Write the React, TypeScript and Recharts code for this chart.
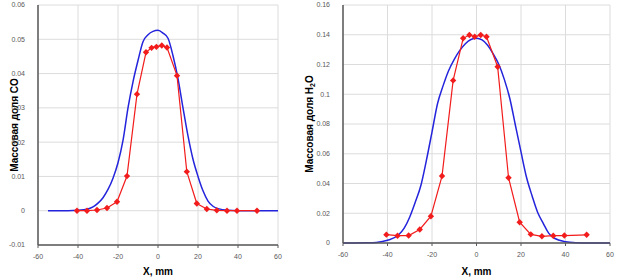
import React from 'react';
import { LineChart, Line, XAxis, YAxis, CartesianGrid } from 'recharts';

// measured points (red), same x positions on both plots
const X_EXP = [-40.5, -35.5, -30.5, -25.5, -20.5, -15.5, -10.5, -6, -3.2, -0.8, 1.9, 4.5, 9.5, 14.4, 19.4, 24.4, 29.4, 34.5, 39.5, 49.5];
const CO_EXP = [0, 0, 0.0002, 0.0008, 0.0026, 0.0101, 0.034, 0.0462, 0.0475, 0.0478, 0.0482, 0.0476, 0.0394, 0.0114, 0.0021, 0.0005, 0.0001, 0, 0, 0];
const H2O_EXP = [0.0056, 0.0049, 0.005, 0.0091, 0.018, 0.045, 0.1093, 0.1376, 0.1398, 0.1387, 0.1398, 0.1387, 0.1185, 0.0439, 0.014, 0.0058, 0.0045, 0.0049, 0.005, 0.0055];

// calculated curves (blue)
const X_CALC_CO = [-55, -50, -45, -40, -35, -32.5, -30, -27.5, -25, -22.5, -20, -17.5, -15, -12.5, -10, -7.5, -5, -2.5, 0, 2.5, 5, 7.5, 10, 12.5, 15, 17.5, 20, 22.5, 25, 27.5, 30, 35, 40, 45, 50, 55, 60];
const CO_CALC = [0, 0, 0, 0.0001, 0.0005, 0.0011, 0.0022, 0.0038, 0.0062, 0.0095, 0.014, 0.0205, 0.03, 0.0376, 0.0438, 0.0493, 0.0513, 0.0523, 0.0526, 0.0518, 0.0503, 0.0452, 0.0385, 0.03, 0.0218, 0.015, 0.01, 0.0058, 0.0028, 0.0013, 0.0006, 0.0001, 0, 0, 0, 0, 0];
const X_CALC_H2O = [-60, -55, -50, -45, -40, -35, -32.5, -30, -27.5, -25, -22.5, -20, -17.5, -15, -12.5, -10, -7.5, -5, -2.5, 0, 2.5, 5, 7.5, 10, 12.5, 15, 17.5, 20, 22.5, 25, 27.5, 30, 32.5, 35, 40, 45, 50, 55, 60];
const H2O_CALC = [0, 0, 0.0001, 0.0004, 0.0018, 0.0055, 0.01, 0.0175, 0.0275, 0.0387, 0.0557, 0.0746, 0.0938, 0.1058, 0.116, 0.1235, 0.1295, 0.134, 0.1368, 0.1377, 0.1366, 0.133, 0.1272, 0.1202, 0.11, 0.097, 0.079, 0.0612, 0.044, 0.0316, 0.0205, 0.0132, 0.0065, 0.0032, 0.0009, 0.0002, 0, 0, 0];

const X_TICKS = [-60, -40, -20, 0, 20, 40, 60];
const CO_TICKS = [-0.01, 0, 0.01, 0.02, 0.03, 0.04, 0.05, 0.06];
const CO_MINOR = [-0.005, 0.005, 0.015, 0.025, 0.035, 0.045, 0.055];
const H2O_TICKS = [0, 0.02, 0.04, 0.06, 0.08, 0.1, 0.12, 0.14, 0.16];
const H2O_MINOR = [0.01, 0.03, 0.05, 0.07, 0.09, 0.11, 0.13, 0.15];

const toRows = (xs: number[], ys: number[]) => xs.map((x, i) => ({ x, y: ys[i] }));

const FONT = '"Liberation Sans", Arial, sans-serif';
const AXIS_DARK = '#595959';
const GRID = '#dcdcdc';
const RED = '#f21c1c';
const BLUE = '#2424dc';

const tickStyle = { fontSize: 7, fill: '#595959', fontFamily: FONT };

const Diamond = (props: any) => {
  const { cx, cy, index } = props;
  if (cx == null || cy == null) return null;
  const r = 3.2;
  return <path key={`d-${index}`} d={`M${cx},${cy - r}L${cx + r},${cy}L${cx},${cy + r}L${cx - r},${cy}Z`} fill={RED} />;
};

const yTitle = (main: string, sub?: string, tail?: string, dx = 6) => (props: any) => {
  const vb = props.viewBox;
  const x = vb.x + dx;
  const y = vb.y + vb.height / 2;
  return (
    <text
      x={x}
      y={y}
      transform={`rotate(-90, ${x}, ${y})`}
      textAnchor="middle"
      dominantBaseline="central"
      fontFamily={FONT}
      fontWeight="bold"
      fontSize={10}
      fill="#000"
    >
      {main}
      {sub && <tspan fontSize={7} dy={3}>{sub}</tspan>}
      {tail && <tspan fontSize={10} dy={-3}>{tail}</tspan>}
    </text>
  );
};

interface PanelProps {
  width: number;
  margin: { top: number; right: number; left: number; bottom: number };
  yWidth: number;
  xHeight: number;
  yDomain: [number, number];
  yTicks: number[];
  yMinor: number[];
  calc: { x: number; y: number }[];
  exp: { x: number; y: number }[];
  title: (props: any) => React.ReactElement;
  frameColor: string;
}

function Panel({ width, margin, yWidth, xHeight, yDomain, yTicks, yMinor, calc, exp, title, frameColor }: PanelProps) {
  return (
    <LineChart width={width} height={278} margin={margin}>
      <CartesianGrid stroke={GRID} strokeWidth={1} />
      <XAxis
        dataKey="x"
        type="number"
        domain={[-60, 60]}
        ticks={X_TICKS}
        interval={0}
        height={xHeight}
        tick={tickStyle}
        tickLine={{ stroke: AXIS_DARK }}
        tickSize={3}
        tickMargin={6}
        axisLine={{ stroke: AXIS_DARK, strokeWidth: 1.5 }}
        label={{ value: 'X, mm', position: 'insideBottom', offset: 3, fontSize: 10, fontWeight: 'bold', fill: '#000', fontFamily: FONT }}
      />
      <XAxis xAxisId="top" orientation="top" type="number" domain={[-60, 60]} height={0} tick={false} tickLine={false} axisLine={{ stroke: frameColor, strokeWidth: 1.5 }} />
      <YAxis
        type="number"
        domain={yDomain}
        ticks={yTicks}
        interval={0}
        width={yWidth}
        tick={tickStyle}
        tickLine={false}
        tickMargin={7}
        tickFormatter={(v: number) => String(v)}
        axisLine={{ stroke: AXIS_DARK, strokeWidth: 1.5 }}
        label={{ content: title }}
      />
      <YAxis yAxisId="minor" type="number" domain={yDomain} ticks={yMinor} interval={0} mirror width={0} tick={false} tickSize={2} tickLine={{ stroke: AXIS_DARK }} axisLine={false} />
      <YAxis yAxisId="right" orientation="right" type="number" domain={yDomain} width={0} tick={false} tickLine={false} axisLine={{ stroke: frameColor, strokeWidth: 1.5 }} />
      <Line data={calc} dataKey="y" type="monotone" stroke={BLUE} strokeWidth={1.5} dot={false} isAnimationActive={false} />
      <Line data={exp} dataKey="y" type="linear" stroke={RED} strokeWidth={1.2} dot={Diamond} isAnimationActive={false} />
    </LineChart>
  );
}

export default function App() {
  return (
    <div style={{ position: 'absolute', left: 0, top: 0, width: 617, height: 278, background: '#fff' }}>
      <div style={{ position: 'absolute', left: 0, top: 0 }}>
        <Panel
          width={290}
          margin={{ top: 5, right: 12, left: 8, bottom: 0 }}
          yWidth={30}
          xHeight={33}
          yDomain={[-0.01, 0.06]}
          yTicks={CO_TICKS}
          yMinor={CO_MINOR}
          calc={toRows(X_CALC_CO, CO_CALC)}
          exp={toRows(X_EXP, CO_EXP)}
          title={yTitle('Массовая доля CO')}
          frameColor="#a0a0a0"
        />
      </div>
      <div style={{ position: 'absolute', left: 300, top: 0 }}>
        <Panel
          width={317}
          margin={{ top: 5, right: 7, left: 3, bottom: 0 }}
          yWidth={40}
          xHeight={35}
          yDomain={[0, 0.16]}
          yTicks={H2O_TICKS}
          yMinor={H2O_MINOR}
          calc={toRows(X_CALC_H2O, H2O_CALC)}
          exp={toRows(X_EXP, H2O_EXP)}
          title={yTitle('Массовая доля H', '2', 'O')}
          frameColor={AXIS_DARK}
        />
      </div>
    </div>
  );
}
